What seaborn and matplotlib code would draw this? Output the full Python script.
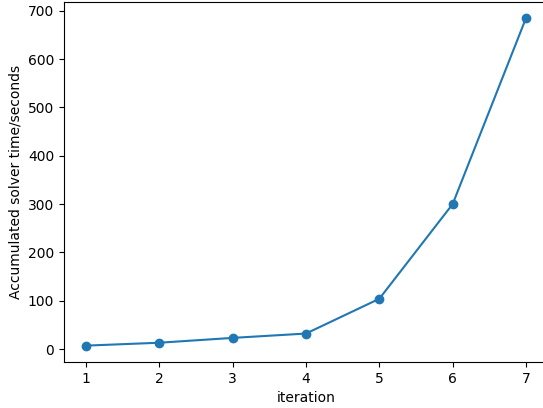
import matplotlib
matplotlib.use("Agg")
import matplotlib.pyplot as plt
import seaborn as sns
import pandas as pd

iterations = [1, 2, 3, 4, 5, 6, 7]
solver_time = [7, 13, 23, 32, 104, 300, 685]

df = pd.DataFrame({"iteration": iterations, "time": solver_time})

fig = plt.figure(figsize=(5.43, 4.08), dpi=100)
ax = fig.add_axes([64 / 543, (408 - 362) / 408, 484 / 543, 360.3 / 408])
color = "#1f77b4"
sns.lineplot(data=df, x="iteration", y="time", ax=ax, color=color, marker="o",
             markersize=6, markeredgecolor=color, markeredgewidth=1, linewidth=1.5)
ax.set_xlim(0.7, 7.3)
ax.set_xlabel("iteration")
ax.set_ylabel("Accumulated solver time/seconds")
fig.savefig("out.png", dpi=100)
